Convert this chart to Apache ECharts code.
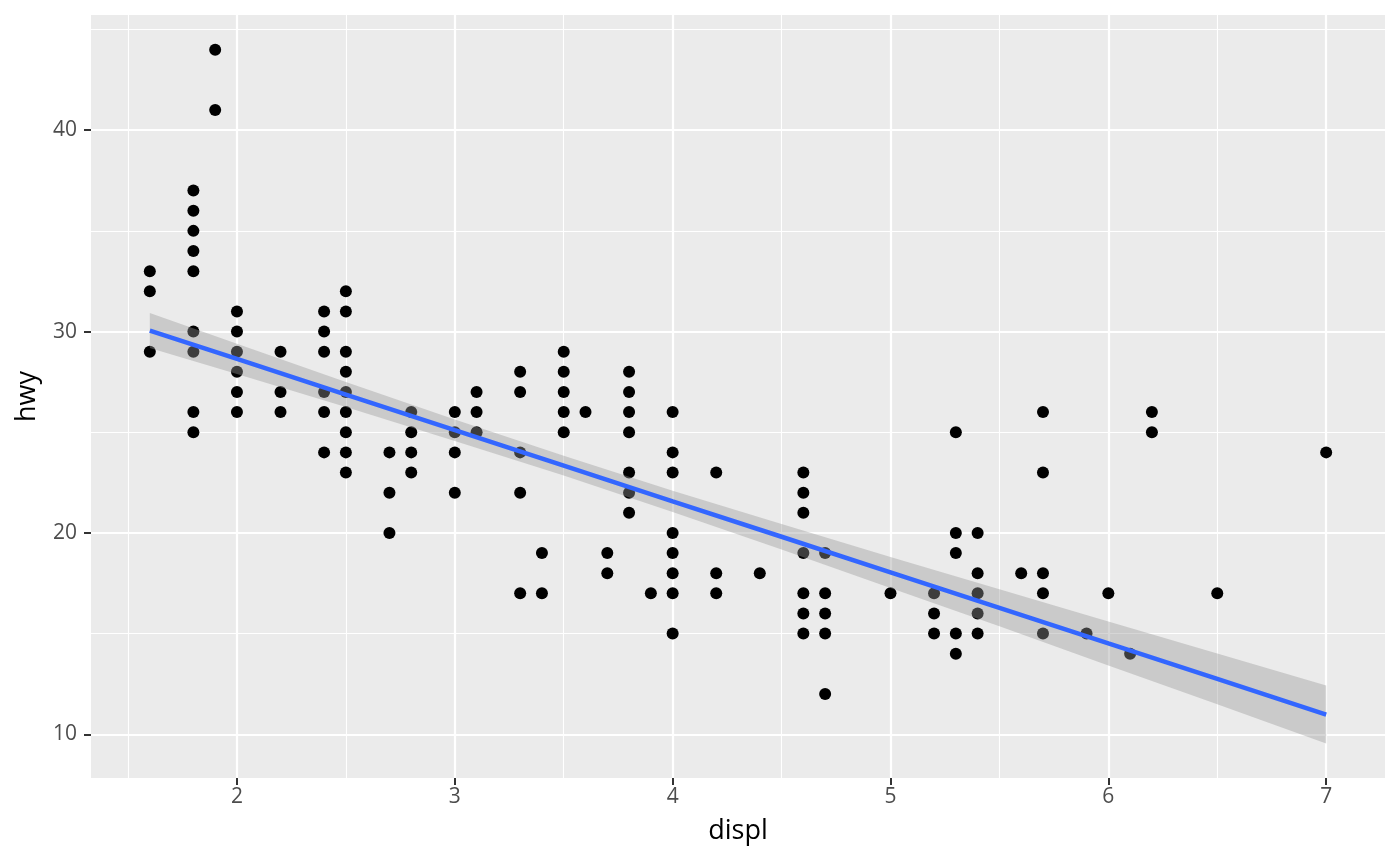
<!DOCTYPE html>
<html>
<head>
<meta charset="utf-8">
<title>hwy vs displ</title>
<script src="https://cdn.jsdelivr.net/npm/echarts@6/dist/echarts.min.js"></script>
<style>
  html, body { margin: 0; padding: 0; background: #fff; }
  #chart { width: 1400px; height: 866px; }
</style>
</head>
<body>
<div id="chart"></div>
<script>
// engine displacement groups and the highway mpg values seen in each column
const displGroups = [1.6, 1.8, 1.9, 2.0, 2.2, 2.4, 2.5, 2.7, 2.8, 3.0, 3.1, 3.3, 3.4, 3.5, 3.6, 3.7,
  3.8, 3.9, 4.0, 4.2, 4.4, 4.6, 4.7, 5.0, 5.2, 5.3, 5.4, 5.6, 5.7, 5.9, 6.0, 6.1, 6.2, 6.5, 7.0];
const hwyGroups = [
  [33, 32, 29],
  [37, 36, 35, 34, 33, 30, 29, 26, 25],
  [44, 41],
  [31, 30, 29, 28, 27, 26],
  [29, 27, 26],
  [31, 30, 29, 27, 26, 24],
  [32, 31, 29, 28, 27, 26, 25, 24, 23],
  [24, 22, 20],
  [26, 25, 24, 23],
  [26, 25, 24, 22],
  [27, 26, 25],
  [28, 27, 24, 22, 17],
  [19, 17],
  [29, 28, 27, 26, 25],
  [26],
  [19, 18],
  [28, 27, 26, 25, 23, 22, 21],
  [17],
  [26, 24, 23, 20, 19, 18, 17, 15],
  [23, 18, 17],
  [18],
  [23, 22, 21, 19, 17, 16, 15],
  [19, 17, 16, 15, 12],
  [17],
  [17, 16, 15],
  [25, 20, 19, 15, 14],
  [20, 18, 17, 16, 15],
  [18],
  [26, 23, 18, 17, 15],
  [15],
  [17],
  [14],
  [26, 25],
  [17],
  [24]
];

// linear fit and its confidence band
const fitX     = [1.6, 2.0, 2.5, 3.0, 3.5, 4.0, 4.5, 5.0, 5.5, 6.0, 6.5, 7.0];
const fitY     = [30.05, 28.64, 26.87, 25.10, 23.34, 21.57, 19.81, 18.04, 16.28, 14.51, 12.75, 10.98];
const fitLower = [29.18, 27.89, 26.25, 24.57, 22.85, 21.04, 19.18, 17.27, 15.36, 13.42, 11.49, 9.54];
const fitUpper = [30.92, 29.39, 27.49, 25.63, 23.83, 22.10, 20.44, 18.81, 17.20, 15.60, 14.01, 12.42];

const xTicks = [2, 3, 4, 5, 6, 7];
const yTicks = [10, 20, 30, 40];

const points = [];
displGroups.forEach((d, i) => {
  hwyGroups[i].forEach(h => points.push([d, h]));
});

const lineData = fitX.map((x, i) => [x, fitY[i]]);
const bandData = fitX.map((x, i) => [x, fitLower[i], fitUpper[i]]);

const FONT = '"Open Sans", "Noto Sans", sans-serif';

const axisCommon = {
  type: 'value',
  axisLine: { show: false },
  splitLine: { show: true, lineStyle: { color: '#ffffff', width: 2.2 } },
  minorTick: { show: false, splitNumber: 2 },
  minorSplitLine: { show: true, lineStyle: { color: '#ffffff', width: 1.1 } },
  nameTextStyle: { color: '#000000', fontSize: 27, fontFamily: FONT }
};

const chart = echarts.init(document.getElementById('chart'), null, { renderer: 'canvas' });

chart.setOption({
  animation: false,
  backgroundColor: '#ffffff',
  grid: {
    left: 91, top: 15, right: 15, bottom: 88,
    show: true, backgroundColor: '#EBEBEB', borderWidth: 0
  },
  xAxis: {
    ...axisCommon,
    min: 1.33,
    max: 7.27,
    splitNumber: 5,
    name: 'displ',
    nameLocation: 'middle',
    nameGap: 40,
    axisTick: {
      show: true, length: 7, customValues: xTicks,
      lineStyle: { color: '#333333', width: 2 }
    },
    axisLabel: {
      customValues: xTicks, color: '#4D4D4D', fontSize: 21,
      fontFamily: FONT, margin: 9
    }
  },
  yAxis: {
    ...axisCommon,
    min: 7.83,
    max: 45.72,
    splitNumber: 4,
    name: 'hwy',
    nameLocation: 'middle',
    nameGap: 50,
    nameRotate: 90,
    axisTick: {
      show: true, length: 7, customValues: yTicks,
      lineStyle: { color: '#333333', width: 2 }
    },
    axisLabel: {
      customValues: yTicks, color: '#4D4D4D', fontSize: 21,
      fontFamily: FONT, margin: 14
    }
  },
  series: [
    {
      type: 'scatter',
      data: points,
      symbol: 'circle',
      symbolSize: 12,
      itemStyle: { color: '#000000', opacity: 1 },
      z: 2
    },
    {
      // confidence ribbon drawn as one polygon through the axis scales
      type: 'custom',
      data: [0],
      silent: true,
      clip: true,
      z: 3,
      renderItem: (params, api) => {
        const upper = bandData.map(d => api.coord([d[0], d[2]]));
        const lower = bandData.map(d => api.coord([d[0], d[1]])).reverse();
        return {
          type: 'polygon',
          shape: { points: upper.concat(lower) },
          style: { fill: 'rgba(153,153,153,0.4)' }
        };
      }
    },
    {
      type: 'line',
      data: lineData,
      symbol: 'none',
      lineStyle: { color: '#3366FF', width: 4.5 },
      silent: true,
      z: 4
    }
  ]
});
</script>
</body>
</html>
